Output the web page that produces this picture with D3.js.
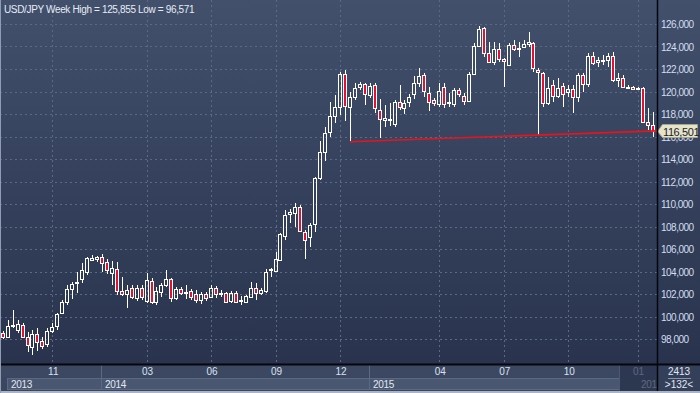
<!DOCTYPE html>
<html>
<head>
<meta charset="utf-8">
<script src="https://cdn.jsdelivr.net/npm/d3@7"></script>
<style>
  body { margin: 0; background: #2b3653; }
  svg { display: block; font-family: "Liberation Sans", Arial, sans-serif; }
</style>
</head>
<body>
<div id="chart"></div>
<script>
// weekly USD/JPY bars, oldest first
const opens = [
  98.53, 98.2, 99.2, 98.8, 99.24, 98.15, 97.26, 98.42, 97.85, 97.56,
  98.74, 99.18, 100.28, 101.26, 102.44, 103.0, 103.3, 103.98, 105.02, 105.13,
  105.26, 104.84, 103.9, 104.22, 102.27, 102.0, 102.5, 101.62, 102.51, 101.4,
  103.16, 101.32, 102.2, 102.8, 103.3, 101.62, 102.42, 102.15, 102.27, 101.97,
  101.47, 101.97, 101.76, 102.56, 101.97, 102.12, 101.4, 102.12, 101.47, 101.32,
  101.76, 102.51, 102.12, 102.27, 104.1, 104.07, 105.02, 107.18, 109.15, 109.22,
  109.76, 107.48, 107.1, 108.2, 112.28, 114.6, 116.4, 117.85, 118.6, 121.53,
  118.65, 119.48, 120.37, 120.64, 119.69, 120.58, 118.36, 117.47, 117.55, 117.08,
  119.04, 118.5, 119.04, 119.78, 120.78, 121.47, 119.9, 119.22, 118.89, 120.37,
  119.02, 118.89, 120.13, 119.63, 119.18, 121.56, 124.07, 125.62, 123.4, 122.6,
  123.75, 122.86, 122.36, 124.13, 123.75, 123.93, 124.22, 124.28, 121.91, 121.62,
  118.95, 120.58, 119.63, 120.49, 119.98, 120.2, 119.48, 121.47, 120.64, 123.16,
  122.6, 122.8, 122.8, 123.16, 121.02, 121.17, 120.4, 120.37, 120.3, 120.3,
  117.26, 117.02
];
const highs = [
  98.75, 99.69, 100.58, 99.69, 99.42, 98.65, 98.8, 98.95, 98.2, 98.95,
  99.4, 100.28, 101.47, 102.77, 103.1, 104.0, 104.73, 105.26, 105.47, 105.38,
  105.53, 105.08, 104.9, 104.87, 103.5, 102.8, 102.8, 102.8, 102.8, 103.84,
  103.4, 102.6, 103.0, 104.13, 103.4, 102.65, 102.65, 102.8, 102.42, 102.36,
  102.2, 102.2, 102.8, 102.71, 102.36, 102.2, 102.27, 102.27, 101.82, 101.9,
  103.1, 102.95, 102.51, 104.2, 104.28, 105.76, 107.4, 109.47, 109.53, 110.06,
  109.9, 107.7, 108.34, 112.43, 115.6, 116.87, 119.1, 119.7, 121.76, 121.9,
  119.98, 120.78, 120.87, 120.78, 120.8, 120.73, 119.33, 118.8, 118.95, 119.24,
  120.58, 119.24, 119.78, 121.38, 122.06, 121.62, 120.43, 119.4, 120.73, 120.78,
  119.84, 120.28, 120.28, 119.84, 121.76, 124.28, 125.855, 125.76, 124.43, 124.43,
  124.28, 123.0, 124.28, 124.58, 124.43, 124.58, 125.3, 124.43, 122.12, 121.76,
  121.3, 121.02, 121.17, 120.73, 120.58, 120.58, 121.62, 121.62, 123.4, 123.54,
  123.1, 123.24, 123.4, 123.54, 121.62, 121.47, 120.58, 120.52, 120.43, 120.43,
  118.5, 118.2
];
const lows = [
  98.0, 98.09, 98.98, 98.53, 98.09, 96.87, 96.571, 96.96, 97.08, 97.32,
  98.5, 98.8, 100.2, 101.0, 101.6, 102.1, 102.95, 103.69, 104.96, 104.87,
  103.98, 103.78, 102.8, 101.9, 101.8, 100.73, 101.6, 101.4, 101.47, 101.17,
  101.1, 101.0, 101.76, 102.6, 101.32, 101.47, 101.9, 101.6, 101.47, 101.17,
  101.1, 101.4, 101.62, 101.62, 101.76, 101.23, 101.23, 101.17, 101.0, 101.17,
  101.62, 101.47, 101.9, 102.06, 103.55, 103.98, 104.96, 106.8, 108.28, 107.98,
  107.54, 105.1, 106.2, 107.54, 112.1, 113.8, 115.98, 117.2, 117.9, 117.4,
  115.54, 119.24, 120.13, 118.8, 119.4, 118.06, 115.85, 116.87, 116.9, 116.87,
  118.36, 118.0, 118.6, 119.3, 120.43, 119.54, 118.3, 118.74, 118.65, 118.5,
  118.65, 118.65, 119.54, 118.8, 119.1, 121.47, 123.98, 123.1, 122.5, 122.36,
  122.65, 120.43, 122.3, 123.6, 123.04, 123.84, 123.98, 121.76, 116.13, 118.6,
  118.8, 119.1, 119.4, 118.65, 119.48, 118.06, 119.1, 119.98, 120.43, 122.36,
  122.2, 122.36, 122.2, 120.87, 120.43, 120.28, 120.2, 120.13, 120.13, 117.17,
  116.58, 115.98
];
const closes = [
  98.18, 99.16, 99.28, 99.3, 98.2, 97.44, 98.42, 97.76, 97.4, 98.71,
  99.04, 100.2, 101.32, 102.44, 102.89, 103.1, 104.13, 105.17, 105.17, 105.26,
  104.78, 104.13, 104.3, 102.3, 102.0, 102.36, 101.76, 102.51, 101.76, 103.24,
  101.26, 102.27, 102.8, 103.3, 101.62, 102.42, 102.12, 102.2, 101.76, 101.47,
  101.97, 101.67, 102.56, 101.97, 102.12, 101.32, 102.12, 101.32, 101.5, 101.82,
  102.51, 102.06, 102.36, 103.93, 104.2, 105.08, 107.33, 109.0, 109.25, 109.76,
  107.63, 106.8, 108.13, 112.28, 114.6, 116.28, 117.82, 118.6, 121.53, 118.74,
  119.48, 120.28, 120.64, 119.75, 120.49, 118.5, 117.56, 117.62, 117.5, 119.1,
  118.6, 118.95, 119.54, 120.78, 121.38, 120.04, 119.04, 118.95, 120.07, 118.89,
  119.06, 120.13, 119.78, 119.18, 121.56, 124.07, 125.53, 123.4, 122.6, 123.75,
  122.86, 122.68, 124.13, 123.75, 123.84, 124.22, 124.43, 122.06, 121.7, 118.95,
  120.28, 119.63, 120.28, 119.78, 120.2, 119.48, 121.47, 120.64, 123.16, 122.56,
  122.8, 122.76, 123.16, 121.02, 121.17, 120.37, 120.43, 120.2, 120.28, 117.29,
  117.02, 116.501
];

const priceTicks = [98, 100, 102, 104, 106, 108, 110, 112, 114, 116, 118, 120, 122, 124, 126];
const monthLabels = ["11", "03", "06", "09", "12", "04", "07", "10", "01"];
const monthWeeks = [10, 29, 42, 55, 68, 88, 101, 114, 128];
const yearLabels = ["2013", "2014", "2015", "2016"];
const yearWeeks = [1, 20, 74, 128];
const trendWeeks = [70, 108];   // the two lows the support line runs through
const totalBars = 2413;

const W = 700, H = 393;
const plotR = 657, plotB = 364;

const svg = d3.select("#chart").append("svg")
  .attr("width", W)
  .attr("height", H);

const defs = svg.append("defs");
const bg = defs.append("linearGradient")
  .attr("id", "bg")
  .attr("x1", 0).attr("y1", 0).attr("x2", 0).attr("y2", 1);
bg.append("stop").attr("offset", "0%").attr("stop-color", "#42506b");
bg.append("stop").attr("offset", "100%").attr("stop-color", "#29334e");

svg.append("rect")
  .attr("width", W).attr("height", plotB)
  .attr("fill", "url(#bg)");

const x = d3.scaleBand()
  .domain(d3.range(opens.length))
  .range([0.22, 655]);
const xc = i => x(i) + x.bandwidth() / 2;
const y = d3.scaleLinear().domain([98, 126]).range([339, 24]);
const fmt = v => d3.format(",.3f")(v).replace(".", ",");

// grid
const grid = svg.append("g")
  .attr("stroke", "#5a6a86")
  .attr("stroke-dasharray", "2,3")
  .attr("stroke-width", 1);
grid.selectAll("line.h")
  .data(priceTicks)
  .enter().append("line")
  .attr("x1", 0).attr("x2", plotR)
  .attr("y1", d => Math.round(y(d)) + 0.5)
  .attr("y2", d => Math.round(y(d)) + 0.5);
grid.selectAll("line.v")
  .data(monthWeeks)
  .enter().append("line")
  .attr("y1", 0).attr("y2", plotB)
  .attr("x1", d => Math.round(xc(d)) + 0.5)
  .attr("x2", d => Math.round(xc(d)) + 0.5);

// candles
const bars = d3.range(opens.length).map(i => ({
  i, o: opens[i], h: highs[i], l: lows[i], c: closes[i]
}));

const candle = svg.append("g").selectAll("g")
  .data(bars)
  .enter().append("g");

candle.each(function (d) {
  const g = d3.select(this);
  const cx = Math.round(xc(d.i));
  const top = Math.round(y(Math.max(d.o, d.c)));
  const bot = Math.max(Math.round(y(Math.min(d.o, d.c))), top + 1);
  const hy = Math.round(y(d.h));
  const ly = Math.round(y(d.l));
  if (hy < top) {
    g.append("line")
      .attr("x1", cx + 0.5).attr("x2", cx + 0.5)
      .attr("y1", hy).attr("y2", top)
      .attr("stroke", "#fff");
  }
  if (ly > bot) {
    g.append("line")
      .attr("x1", cx + 0.5).attr("x2", cx + 0.5)
      .attr("y1", bot).attr("y2", ly)
      .attr("stroke", "#fff");
  }
  g.append("rect")
    .attr("x", cx - 1.5)
    .attr("y", top + 0.5)
    .attr("width", 3)
    .attr("height", bot - top)
    .attr("fill", d.c < d.o ? "#e3112f" : "none")
    .attr("stroke", "#fff")
    .attr("stroke-width", 1);
});

// support line through two lows, extended to the right edge
const p0 = [xc(trendWeeks[0]), y(lows[trendWeeks[0]])];
const p1 = [xc(trendWeeks[1]), y(lows[trendWeeks[1]])];
const slope = (p1[1] - p0[1]) / (p1[0] - p0[0]);
svg.append("line")
  .attr("x1", p0[0]).attr("y1", p0[1])
  .attr("x2", plotR).attr("y2", p0[1] + slope * (plotR - p0[0]))
  .attr("stroke", "#e8141c")
  .attr("stroke-width", 1.6);

// title
const title = `USD/JPY Week High = ${fmt(d3.max(highs))} Low = ${fmt(d3.min(lows))}`;
svg.append("text")
  .attr("x", 4).attr("y", 13)
  .attr("fill", "#e6ecf6")
  .style("font-size", "10px")
  .style("letter-spacing", "-0.35px")
  .text(title);

// right axis
svg.append("g").selectAll("text")
  .data(priceTicks)
  .enter().append("text")
  .attr("x", 661)
  .attr("y", d => y(d) + 4)
  .attr("fill", "#d3def0")
  .style("font-size", "10px")
  .style("letter-spacing", "-0.5px")
  .text(d => fmt(d));

// last price tag
const last = closes[closes.length - 1];
const ly = Math.round(y(last));
svg.append("path")
  .attr("d", `M${plotR + 0.5},${ly + 0.5} L${plotR + 5.5},${ly - 6.5} L697.5,${ly - 6.5} L697.5,${ly + 6.5} L${plotR + 5.5},${ly + 6.5} Z`)
  .attr("fill", "#e5e3ca")
  .attr("stroke", "#aaa68c");
svg.append("text")
  .attr("x", 663).attr("y", ly + 4.5)
  .attr("fill", "#1d2127")
  .style("font-size", "11px")
  .style("letter-spacing", "-0.4px")
  .text(fmt(last));

// bottom time axis
const axis = svg.append("g");
axis.append("rect")
  .attr("x", 0).attr("y", plotB).attr("width", plotR).attr("height", 13)
  .attr("fill", "#3c4862");
axis.append("rect")
  .attr("x", 0).attr("y", plotB + 13).attr("width", plotR).attr("height", 14)
  .attr("fill", "#3a465f");

const yearStarts = yearWeeks.map((w, k) => k === 0 ? 7 : Math.round(xc(w)) - 1);
const overlayX = 619;
axis.selectAll("rect.year")
  .data(yearLabels.slice(0, 3))
  .enter().append("rect")
  .attr("x", (d, k) => yearStarts[k] + 0.5)
  .attr("y", plotB + 14.5)
  .attr("width", (d, k) => (k < 2 ? yearStarts[k + 1] : overlayX) - yearStarts[k])
  .attr("height", 11)
  .attr("fill", "#4a5770")
  .attr("stroke", "#5b6983");
axis.selectAll("line.sep")
  .data(yearStarts.slice(1, 3))
  .enter().append("line")
  .attr("x1", d => d + 0.5).attr("x2", d => d + 0.5)
  .attr("y1", plotB).attr("y2", plotB + 26)
  .attr("stroke", "#5b6983");

axis.selectAll("text.month")
  .data(monthLabels)
  .enter().append("text")
  .attr("x", (d, k) => xc(monthWeeks[k]) + 1)
  .attr("y", plotB + 11)
  .attr("text-anchor", "middle")
  .attr("fill", "#d8e2f2")
  .style("font-size", "10px")
  .text(d => d);
axis.selectAll("text.year")
  .data(yearLabels)
  .enter().append("text")
  .attr("x", (d, k) => k === 0 ? 11 : yearStarts[k] + 4)
  .attr("y", plotB + 24)
  .attr("fill", "#e2e8f2")
  .style("font-size", "10px")
  .style("letter-spacing", "-0.3px")
  .text(d => d);

// darker band over the newest, unfinished period
axis.append("rect")
  .attr("x", overlayX).attr("y", plotB).attr("width", plotR - overlayX).attr("height", 27)
  .attr("fill", "#27314a")
  .attr("opacity", 0.7);
axis.append("line")
  .attr("x1", overlayX + 0.5).attr("x2", overlayX + 0.5)
  .attr("y1", plotB).attr("y2", plotB + 27)
  .attr("stroke", "#4c5872");

// bottom-right counter
svg.append("rect")
  .attr("x", plotR).attr("y", plotB).attr("width", W - plotR).attr("height", 27)
  .attr("fill", "#34405a");
svg.append("text")
  .attr("x", 679).attr("y", plotB + 11)
  .attr("text-anchor", "middle")
  .attr("fill", "#e2e8f2")
  .style("font-size", "10px")
  .text(totalBars);
svg.append("line")
  .attr("x1", 668).attr("x2", 691)
  .attr("y1", plotB + 14.5).attr("y2", plotB + 14.5)
  .attr("stroke", "#8894aa");
svg.append("text")
  .attr("x", 679).attr("y", plotB + 24)
  .attr("text-anchor", "middle")
  .attr("fill", "#e2e8f2")
  .style("font-size", "10px")
  .text(`>${opens.length}<`);

// frame lines
svg.append("line")
  .attr("x1", 0).attr("x2", W)
  .attr("y1", plotB + 0.5).attr("y2", plotB + 0.5)
  .attr("stroke", "#05070c").attr("stroke-width", 2);
svg.append("line")
  .attr("x1", plotR + 0.5).attr("x2", plotR + 0.5)
  .attr("y1", 0).attr("y2", plotB + 27)
  .attr("stroke", "#05070c").attr("stroke-width", 1.5);
svg.append("rect")
  .attr("x", 0).attr("y", plotB + 27).attr("width", W).attr("height", H - plotB - 27)
  .attr("fill", "#aab4c4");
svg.append("line")
  .attr("x1", 0.5).attr("x2", 0.5)
  .attr("y1", 0).attr("y2", H)
  .attr("stroke", "#8e9cb4");
</script>
</body>
</html>
